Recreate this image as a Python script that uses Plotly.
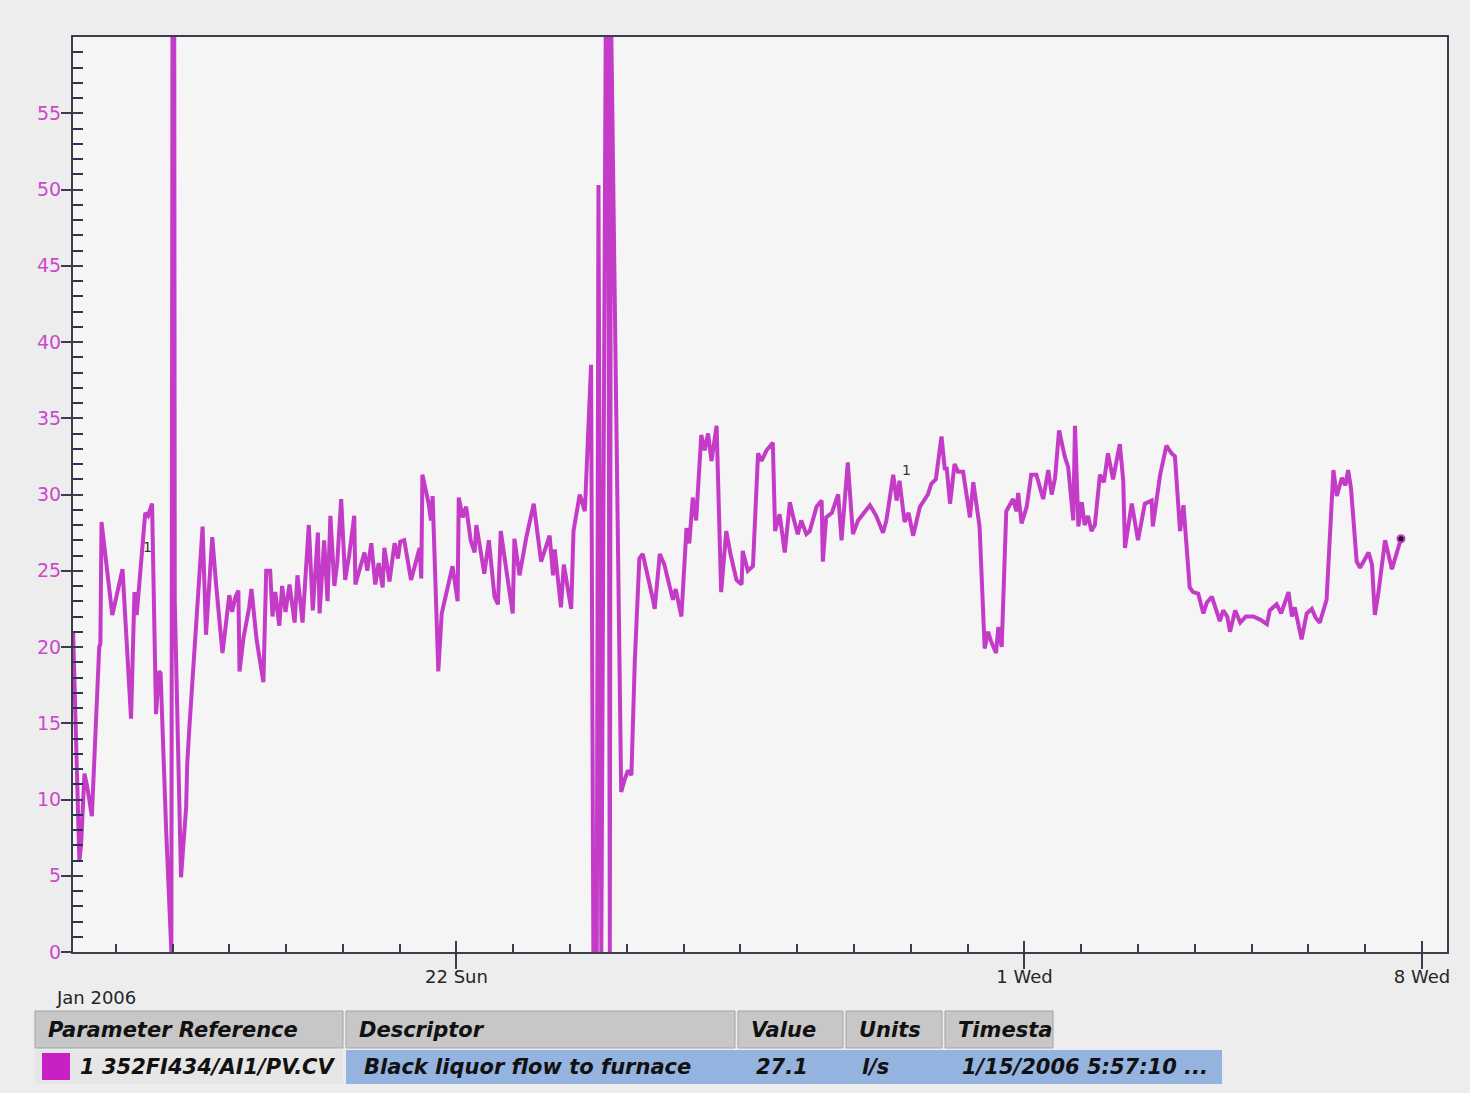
import pandas as pd
import plotly.graph_objects as go

# Black liquor flow to furnace, tag 352FI434/AI1/PV.CV (l/s)
# sample times are days after 2006-01-15 00:00
days = [
    0.25, 0.30, 0.36, 0.39, 0.45, 0.50, 0.58, 0.71, 0.73, 0.75,
    0.94, 1.12, 1.27, 1.33, 1.37, 1.52, 1.57, 1.64, 1.71, 1.76,
    1.79, 1.89, 1.98, 2.00, 2.03, 2.04, 2.15, 2.24, 2.26, 2.30,
    2.47, 2.53, 2.59, 2.70, 2.77, 2.88, 3.00, 3.05, 3.11, 3.16,
    3.18, 3.25, 3.35, 3.39, 3.48, 3.60, 3.65, 3.72, 3.76, 3.81,
    3.88, 3.93, 3.99, 4.06, 4.15, 4.20, 4.29, 4.40, 4.47, 4.56,
    4.59, 4.67, 4.73, 4.78, 4.85, 4.90, 4.97, 5.04, 5.11, 5.20,
    5.22, 5.38, 5.43, 5.50, 5.57, 5.63, 5.70, 5.73, 5.82, 5.91,
    5.97, 6.01, 6.08, 6.20, 6.28, 6.35, 6.38, 6.40, 6.51, 6.55,
    6.58, 6.68, 6.74, 6.88, 6.93, 7.02, 7.04, 7.11, 7.17, 7.25,
    7.32, 7.35, 7.49, 7.57, 7.67, 7.73, 7.78, 7.88, 7.99, 8.02,
    8.11, 8.23, 8.36, 8.49, 8.64, 8.70, 8.73, 8.84, 8.89, 9.02,
    9.06, 9.17, 9.26, 9.37, 9.41, 9.47, 9.50, 9.55, 9.63, 9.67,
    9.70, 9.72, 9.90, 9.96, 10.02, 10.08, 10.14, 10.22, 10.28, 10.46,
    10.49, 10.58, 10.66, 10.81, 10.86, 10.96, 11.05, 11.10, 11.16, 11.22,
    11.31, 11.37, 11.43, 11.49, 11.58, 11.66, 11.75, 11.83, 11.93, 12.02,
    12.04, 12.13, 12.22, 12.31, 12.37, 12.46, 12.57, 12.61, 12.69, 12.78,
    12.87, 12.93, 13.01, 13.07, 13.16, 13.22, 13.34, 13.43, 13.45, 13.51,
    13.61, 13.72, 13.78, 13.89, 13.98, 14.07, 14.17, 14.28, 14.39, 14.51,
    14.57, 14.69, 14.75, 14.80, 14.89, 14.96, 15.04, 15.16, 15.23, 15.30,
    15.36, 15.44, 15.54, 15.60, 15.63, 15.69, 15.77, 15.83, 15.92, 16.04,
    16.10, 16.21, 16.30, 16.36, 16.41, 16.50, 16.54, 16.60, 16.68, 16.80,
    16.86, 16.89, 16.95, 17.04, 17.12, 17.21, 17.33, 17.42, 17.48, 17.54,
    17.61, 17.71, 17.77, 17.86, 17.89, 17.95, 18.01, 18.06, 18.12, 18.18,
    18.24, 18.33, 18.40, 18.47, 18.56, 18.68, 18.74, 18.77, 18.89, 19.00,
    19.12, 19.24, 19.26, 19.33, 19.39, 19.50, 19.59, 19.65, 19.74, 19.80,
    19.91, 19.97, 20.06, 20.15, 20.21, 20.30, 20.37, 20.44, 20.50, 20.57,
    20.62, 20.71, 20.80, 20.90, 21.03, 21.15, 21.27, 21.32, 21.44, 21.52,
    21.65, 21.71, 21.76, 21.88, 21.97, 22.06, 22.13, 22.20, 22.32, 22.44,
    22.50, 22.59, 22.65, 22.70, 22.75, 22.85, 22.91, 23.06, 23.12, 23.17,
    23.23, 23.35, 23.47, 23.63,
]
flow = [
    21.0, 14.0, 6.0, 7.0, 11.7, 10.8, 8.9, 20.0, 20.2, 28.2,
    22.1, 25.1, 15.3, 23.6, 22.1, 28.8, 28.6, 29.4, 15.6, 18.4,
    18.3, 7.8, 0.0, 62.0, 62.0, 23.0, 4.9, 9.5, 12.4, 14.9,
    24.8, 27.9, 20.8, 27.2, 24.0, 19.6, 23.4, 22.3, 23.3, 23.7,
    18.4, 20.6, 22.6, 23.8, 20.5, 17.7, 25.0, 25.0, 22.0, 23.6,
    21.4, 24.0, 22.3, 24.1, 21.6, 24.7, 21.6, 28.0, 22.4, 27.5,
    22.2, 27.0, 23.0, 28.6, 24.0, 25.5, 29.7, 24.4, 26.0, 28.6,
    24.1, 26.2, 25.0, 26.8, 24.1, 25.5, 23.9, 26.5, 24.3, 26.8,
    25.8, 26.9, 27.0, 24.4, 25.5, 26.5, 24.5, 31.3, 29.4, 28.3,
    29.9, 18.4, 22.2, 24.4, 25.3, 23.0, 29.8, 28.5, 29.2, 27.0,
    26.2, 28.0, 24.8, 27.0, 23.3, 22.8, 27.6, 25.0, 22.2, 27.1,
    24.7, 27.2, 29.4, 25.6, 27.3, 24.7, 26.4, 22.6, 25.4, 22.5,
    27.6, 30.0, 28.9, 38.5, 0.0, 0.0, 50.3, 0.0, 62.0, 62.0,
    0.0, 62.0, 10.5, 11.3, 11.9, 11.6, 19.1, 25.8, 26.1, 23.1,
    22.5, 26.1, 25.4, 23.1, 23.8, 22.0, 27.8, 26.8, 29.8, 28.3,
    33.9, 32.9, 34.0, 32.2, 34.5, 23.6, 27.6, 26.0, 24.4, 24.1,
    26.3, 25.0, 25.3, 32.7, 32.2, 32.9, 33.4, 27.6, 28.7, 26.2,
    29.5, 28.5, 27.4, 28.3, 27.4, 27.6, 29.2, 29.6, 25.6, 28.5,
    28.8, 30.0, 27.0, 32.1, 27.4, 28.3, 28.8, 29.3, 28.6, 27.5,
    28.3, 31.3, 29.6, 30.9, 28.2, 28.8, 27.3, 29.2, 29.6, 30.0,
    30.7, 31.0, 33.8, 31.6, 31.8, 29.4, 32.0, 31.5, 31.5, 28.5,
    30.8, 27.9, 19.9, 21.0, 20.4, 19.6, 21.3, 20.0, 28.9, 29.7,
    28.9, 30.1, 28.1, 29.2, 31.3, 31.3, 29.7, 31.6, 30.0, 31.1,
    34.2, 32.5, 31.8, 28.3, 34.5, 27.9, 29.5, 28.0, 28.6, 27.6,
    28.0, 31.3, 30.8, 32.7, 31.0, 33.3, 30.9, 26.5, 29.4, 27.0,
    29.4, 29.6, 27.9, 29.9, 31.3, 33.2, 32.7, 32.5, 27.6, 29.3,
    23.9, 23.6, 23.5, 22.2, 22.9, 23.3, 22.5, 21.7, 22.4, 22.0,
    21.0, 22.4, 21.6, 22.0, 22.0, 21.8, 21.5, 22.4, 22.8, 22.2,
    23.6, 22.0, 22.6, 20.5, 22.2, 22.5, 21.9, 21.6, 23.1, 31.6,
    29.9, 31.1, 30.6, 31.6, 30.4, 25.6, 25.2, 26.2, 25.4, 22.1,
    23.5, 27.0, 25.1, 27.1,
]
assert len(days) == len(flow)

# axis labelling
y_major = [0, 5, 10, 15, 20, 25, 30, 35, 40, 45, 50, 55]
x_major = ["2006-01-22", "2006-02-01", "2006-02-08"]
x_major_text = ["22 Sun", "1 Wed", "8 Wed"]
view_start = "2006-01-15 05:57:10"
view_end = "2006-02-08 10:34:00"

# legend / data table row
table_headers = ["Parameter Reference", "Descriptor", "Value", "Units", "Timesta"]
table_row = ["1 352FI434/AI1/PV.CV", "Black liquor flow to furnace", "27.1", "l/s",
             "1/15/2006 5:57:10 ..."]

origin = pd.Timestamp("2006-01-15")
times = origin + pd.to_timedelta(days, unit="D")

LINE = "#C43BC8"
AXIS = "#3a3d4c"
TEXT = "#262626"
FONT = "DejaVu Sans, Verdana, sans-serif"

W, H = 1470, 1093
L, R, T, B = 73, 23, 37, 141
PW, PH = W - L - R, H - T - B


def xp(x):
    return (x - L) / PW


def yp(y):
    return (H - B - y) / PH


fig = go.Figure()

fig.add_trace(go.Scatter(
    x=times, y=flow, mode="lines",
    line=dict(color=LINE, width=4),
    showlegend=False, hoverinfo="x+y",
))

# current value marker at the end of the trend
fig.add_trace(go.Scatter(
    x=[times[-1]], y=[flow[-1]], mode="markers",
    marker=dict(color="#111111", size=7, line=dict(color=LINE, width=2)),
    showlegend=False, hoverinfo="skip",
))

# carrier trace for the overlay axes that draw the inner half of major ticks
fig.add_trace(go.Scatter(x=[], y=[], xaxis="x2", yaxis="y2", showlegend=False,
                         hoverinfo="skip"))

minor_days = pd.date_range("2006-01-16", "2006-02-08", freq="D")

fig.update_layout(
    width=W, height=H,
    margin=dict(l=L, r=R, t=T, b=B),
    paper_bgcolor="#EDEDED",
    plot_bgcolor="#F5F5F5",
    font=dict(family=FONT, color=TEXT),
    xaxis=dict(
        type="date", range=[view_start, view_end],
        tickmode="array", tickvals=x_major, ticktext=x_major_text,
        ticks="outside", ticklen=15, tickwidth=1.6, tickcolor=AXIS,
        tickfont=dict(size=18, color=TEXT),
        ticklabelstandoff=-8,
        showline=True, linecolor=AXIS, linewidth=2, mirror=True,
        showgrid=False, zeroline=False,
        minor=dict(tickvals=list(minor_days), ticks="inside", ticklen=8,
                   tickwidth=1.6, tickcolor=AXIS, showgrid=False),
    ),
    yaxis=dict(
        range=[0, 60],
        tickmode="array", tickvals=y_major,
        ticks="outside", ticklen=10, tickwidth=1.6, tickcolor=AXIS,
        tickfont=dict(size=19, color="#CC48CC"),
        ticklabelstandoff=-4,
        showline=True, linecolor=AXIS, linewidth=2, mirror=True,
        showgrid=False, zeroline=False,
        minor=dict(tickvals=list(range(1, 60)), ticks="inside", ticklen=10,
                   tickwidth=2, tickcolor="#2b3552", showgrid=False),
    ),
    xaxis2=dict(
        type="date", range=[view_start, view_end], overlaying="x", anchor="y",
        tickmode="array", tickvals=x_major, ticks="inside", ticklen=11,
        tickwidth=1.6, tickcolor=AXIS, showticklabels=False,
        showline=False, showgrid=False, zeroline=False,
    ),
    yaxis2=dict(
        range=[0, 60], overlaying="y", anchor="x",
        tickmode="array", tickvals=y_major, ticks="inside", ticklen=10,
        tickwidth=1.6, tickcolor=AXIS, showticklabels=False,
        showline=False, showgrid=False, zeroline=False,
    ),
)

annotations = []
shapes = []

# trace number labels on the curve
for idx, dx, dy in [(15, 2, -34), (193, 7, 11)]:
    annotations.append(dict(
        x=times[idx], y=flow[idx], xref="x", yref="y", text="1",
        showarrow=False, xshift=dx, yshift=dy,
        font=dict(size=14, color="#333333"),
    ))

annotations.append(dict(
    x=xp(54), y=yp(997), xref="paper", yref="paper", text="Jan 2006",
    showarrow=False, xanchor="left", yanchor="middle",
    font=dict(size=18, color=TEXT),
))

# data table under the chart
col_left = [35, 346, 738, 846, 945]
col_right = [343, 735, 843, 942, 1053]
head_top, head_bot = 1011, 1048
row_top, row_bot = 1050, 1084

for x0, x1, label in zip(col_left, col_right, table_headers):
    shapes.append(dict(
        type="rect", xref="paper", yref="paper",
        x0=xp(x0), x1=xp(x1), y0=yp(head_bot), y1=yp(head_top),
        fillcolor="#C7C7C7", line=dict(color="#A3A3A3", width=1), layer="above",
    ))
    annotations.append(dict(
        x=xp(x0 + 11), y=yp((head_top + head_bot) / 2), xref="paper", yref="paper",
        text=f"<b><i>{label}</i></b>", showarrow=False,
        xanchor="left", yanchor="middle",
        font=dict(size=21, color="#111111"),
    ))

shapes.append(dict(
    type="rect", xref="paper", yref="paper",
    x0=xp(35), x1=xp(343), y0=yp(row_bot), y1=yp(row_top),
    fillcolor="#E6E6E6", line=dict(width=0), layer="above",
))
shapes.append(dict(
    type="rect", xref="paper", yref="paper",
    x0=xp(346), x1=xp(1222), y0=yp(row_bot), y1=yp(row_top),
    fillcolor="#95B3DF", line=dict(width=0), layer="above",
))
shapes.append(dict(
    type="rect", xref="paper", yref="paper",
    x0=xp(42), x1=xp(70), y0=yp(1080), y1=yp(1053),
    fillcolor="#C820C4", line=dict(width=0), layer="above",
))

row_x = [78, 362, 754, 860, 960]
for x0, label in zip(row_x, table_row):
    annotations.append(dict(
        x=xp(x0), y=yp((row_top + row_bot) / 2), xref="paper", yref="paper",
        text=f"<b><i>{label}</i></b>", showarrow=False,
        xanchor="left", yanchor="middle",
        font=dict(size=21, color="#111111"),
    ))

fig.update_layout(annotations=annotations, shapes=shapes)

fig.write_html("out.html")
